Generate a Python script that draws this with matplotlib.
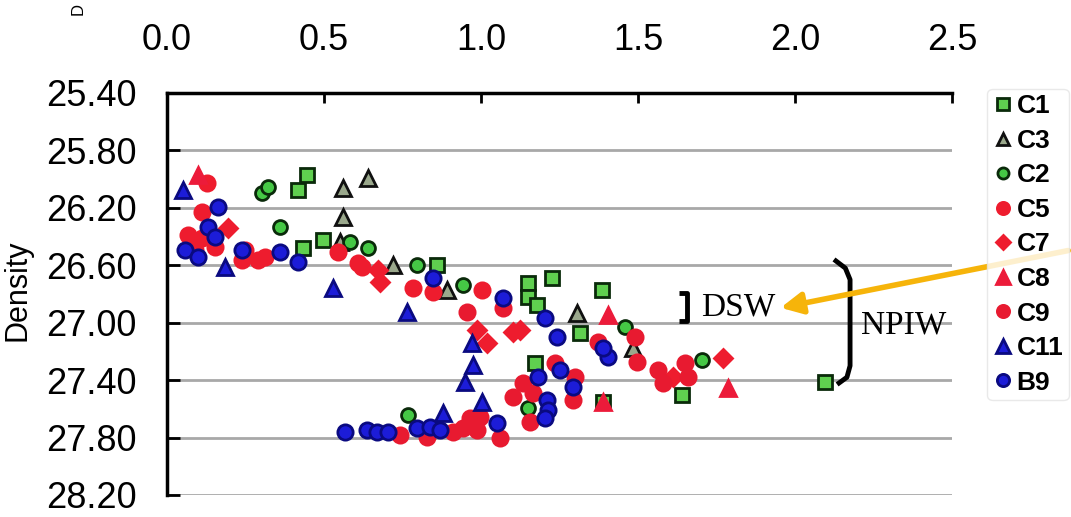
import matplotlib
matplotlib.use("Agg")
import matplotlib.pyplot as plt

plt.rcParams['font.family'] = ['Liberation Sans', 'DejaVu Sans']

# values (x = top axis, y = density)
c1_x = [0.417, 0.446, 0.433, 0.497, 0.860, 1.150, 1.226, 1.150, 1.178, 1.385, 1.315, 1.172, 1.389, 1.640, 2.096]
c1_y = [26.075, 25.970, 26.478, 26.423, 26.597, 26.722, 26.687, 26.819, 26.875, 26.771, 27.070, 27.278, 27.550, 27.501, 27.411]

c3_x = [0.561, 0.640, 0.561, 0.551, 0.720, 0.892, 1.306, 1.484]
c3_y = [26.061, 25.991, 26.263, 26.437, 26.597, 26.771, 26.931, 27.174]

c2_x = [0.303, 0.322, 0.360, 0.583, 0.640, 0.796, 0.943, 1.459, 1.704, 0.768, 1.150]
c2_y = [26.096, 26.054, 26.332, 26.437, 26.478, 26.597, 26.736, 27.028, 27.258, 27.640, 27.591]

c5_x = [0.127, 0.111, 0.067, 0.111, 0.153, 0.089, 0.248, 0.290, 0.312, 0.239, 0.545, 0.608, 0.621, 0.783, 0.847, 1.003]
c5_y = [26.026, 26.228, 26.388, 26.409, 26.471, 26.492, 26.492, 26.562, 26.541, 26.562, 26.506, 26.583, 26.611, 26.757, 26.784, 26.771]

c7_x = [0.194, 0.672, 0.678, 0.987, 1.019, 1.102, 1.124, 1.611, 1.771]
c7_y = [26.339, 26.631, 26.715, 27.049, 27.139, 27.063, 27.049, 27.376, 27.244]

c8_x = [0.099, 1.404, 1.389, 1.787]
c8_y = [25.970, 26.944, 27.550, 27.452]

c9_x = [0.955, 1.070, 1.373, 1.490, 1.497, 1.564, 1.580, 1.650, 1.659, 1.236, 1.299, 1.293, 1.134,
        1.102, 1.166, 1.156, 0.943, 0.997, 1.061, 0.742, 0.828, 0.911, 0.987, 0.965]
c9_y = [26.924, 26.896, 27.132, 27.097, 27.271, 27.327, 27.418, 27.278, 27.376, 27.278, 27.376, 27.536, 27.418,
        27.515, 27.487, 27.689, 27.731, 27.654, 27.800, 27.779, 27.793, 27.758, 27.745, 27.661]

c11_x = [0.051, 0.185, 0.529, 0.764, 0.971, 0.975, 0.949, 1.003, 0.879]
c11_y = [26.075, 26.611, 26.757, 26.924, 27.139, 27.292, 27.411, 27.550, 27.626]

b9_x = [0.162, 0.131, 0.153, 0.057, 0.099, 0.239, 0.360, 0.417, 0.847, 1.070, 1.204, 1.242, 1.182, 1.252,
        1.293, 1.210, 1.213, 1.204, 1.404, 1.389, 0.567, 0.637, 0.669, 0.704, 0.796, 0.838, 0.869, 1.051]
b9_y = [26.193, 26.332, 26.402, 26.492, 26.541, 26.492, 26.506, 26.576, 26.687, 26.826, 26.965, 27.097, 27.376, 27.327,
        27.445, 27.536, 27.605, 27.661, 27.237, 27.174, 27.758, 27.745, 27.758, 27.758, 27.731, 27.724, 27.745, 27.696]

y_ticks = [25.40, 25.80, 26.20, 26.60, 27.00, 27.40, 27.80, 28.20]
x_ticks = [0.0, 0.5, 1.0, 1.5, 2.0, 2.5]

fig = plt.figure(figsize=(10.71, 5.17), dpi=100)
ax = fig.add_axes([0.156, 0.0426, 0.733, 0.7776])

green = '#5fcf4f'
red = '#ee1c2e'
blue = '#1c1cd8'
series = [
    ('C1', c1_x, c1_y, 's', green, '#0a2a0a', 10),
    ('C3', c3_x, c3_y, '^', '#9aa88c', '#101010', 11),
    ('C2', c2_x, c2_y, 'o', '#45c845', '#0a2a0a', 10),
    ('C5', c5_x, c5_y, 'o', red, red, 11),
    ('C7', c7_x, c7_y, 'D', red, red, 9),
    ('C8', c8_x, c8_y, '^', '#ec1b3a', '#ec1b3a', 12),
    ('C9', c9_x, c9_y, 'o', '#e81a30', '#e81a30', 11),
    ('C11', c11_x, c11_y, '^', blue, '#0a0a80', 12),
    ('B9', b9_x, b9_y, 'o', blue, '#0a0a80', 11),
]
for name, xs, ys, m, fc, ec, ms in series:
    ax.plot(xs, ys, ls='none', marker=m, ms=ms, mfc=fc, mec=ec, mew=2, label=name)

ax.set_xlim(0, 2.5)
ax.set_ylim(28.20, 25.40)
ax.set_xticks(x_ticks)
ax.set_xticklabels([f"{v:.1f}" for v in x_ticks])
ax.set_yticks(y_ticks)
ax.set_yticklabels([f"{v:.2f}" for v in y_ticks])
ax.xaxis.tick_top()
ax.tick_params(axis='x', direction='in', length=7, width=2, pad=25, labelsize=26, bottom=False)
ax.tick_params(axis='y', direction='in', length=9, width=2, pad=22, labelsize=26, right=False)
ax.yaxis.grid(True, color='#a8a8a8', lw=2)
ax.set_axisbelow(True)
for s in ['right', 'bottom']:
    ax.spines[s].set_visible(False)
for s in ['top', 'left']:
    ax.spines[s].set_linewidth(2.5)

# DSW bracket and label
ax.plot([1.63, 1.655, 1.655, 1.63], [26.79, 26.79, 26.99, 26.99], color='black', lw=3.5, solid_capstyle='butt')
ax.text(1.70, 26.89, 'DSW', family='Liberation Serif', fontsize=24, va='center', ha='left')

# NPIW bracket and label
ax.plot([2.13, 2.16, 2.175, 2.175, 2.165, 2.14],
        [26.57, 26.62, 26.70, 27.30, 27.38, 27.42], color='black', lw=3.5)
ax.text(2.21, 27.02, 'NPIW', family='Liberation Serif', fontsize=24, va='center', ha='left')

# yellow arrow coming from the right edge
ax.annotate('', xy=(1.945, 26.90), xycoords='data', xytext=(1.0, 1 - 250 / 517),
            textcoords='figure fraction',
            arrowprops=dict(arrowstyle='-|>', color='#f6b40a', lw=4, mutation_scale=32),
            annotation_clip=False)

leg = fig.legend(loc='upper left', bbox_to_anchor=(0.922, 0.828), frameon=True,
                 fontsize=19, labelspacing=0.4, handletextpad=0.1, handlelength=0.8,
                 borderpad=0.2, borderaxespad=0, markerscale=0.8)
leg.get_frame().set_edgecolor('#e4e4e4')
leg.get_frame().set_linewidth(1)
for t in leg.get_texts():
    t.set_fontweight('bold')

# axis label at the left edge
fig.text(0.002, 1 - 290 / 517, 'Density', rotation=90, ha='left', va='center', fontsize=22)
fig.text(78 / 1071, 0.995, 'D', rotation=90, ha='center', va='top', fontsize=12)

fig.savefig('out.png', dpi=100)
